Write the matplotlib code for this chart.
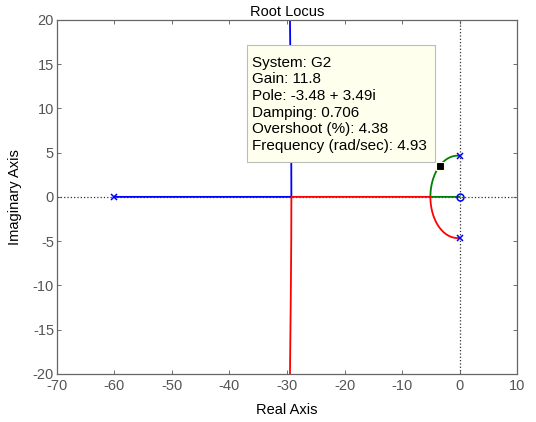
import numpy as np
import matplotlib.pyplot as plt
from matplotlib.patches import Rectangle

# open-loop poles / zeros of G2
poles = [-60.0, 4.64j, -4.64j]
zeros = [0.0]

# data tip
tip_pole = (-3.48, 3.49)
tip_lines = ["System: G2", "Gain: 11.8", "Pole: -3.48 + 3.49i",
             "Damping: 0.706", "Overshoot (%): 4.38",
             "Frequency (rad/sec): 4.93"]

xticks = np.arange(-70, 11, 10)
yticks = np.arange(-20, 21, 5)

num = np.real(np.poly(zeros))
den = np.real(np.poly(poles))

# break-in / break-away points, so branches meet exactly
dpoly = np.polysub(np.polymul(np.polyder(den), num), np.polymul(den, np.polyder(num)))
bk = []
for s in np.roots(dpoly):
    if abs(s.imag) < 1e-9:
        k = -np.polyval(den, s.real) / np.polyval(num, s.real)
        if k > 0:
            bk.append(k)

gains = np.sort(np.concatenate([[0.0], np.logspace(-3, 5, 6000), bk]))

blue, green, red = [], [], []
for k in gains:
    r = np.roots(np.polyadd(den, k * num))
    cplx = r[np.abs(r.imag) > 1e-4]
    re = np.sort(r[np.abs(r.imag) <= 1e-4].real)
    if len(cplx) == 2:
        up = cplx[np.argmax(cplx.imag)]
        dn = np.conj(up)
        if re[0] < up.real:
            blue.append(re[0]); green.append(up); red.append(dn)
        else:
            green.append(re[0]); blue.append(up); red.append(dn)
    else:
        green.append(re[2]); red.append(re[1]); blue.append(re[0])

blue = np.array(blue, dtype=complex)
green = np.array(green, dtype=complex)
red = np.array(red, dtype=complex)

plt.rcParams['font.family'] = ['Liberation Sans', 'DejaVu Sans']
plt.rcParams['axes.unicode_minus'] = False
fig = plt.figure(figsize=(5.36, 4.22), dpi=100)
ax = fig.add_axes([0.106, 0.114, 0.859, 0.839])

ax.axhline(0, color='#333333', ls=':', lw=0.9, zorder=1)
ax.axvline(0, color='#333333', ls=':', lw=0.9, zorder=1)

ax.plot(blue.real, blue.imag, color=(0, 0, 1), lw=1.3, zorder=2)
ax.plot(green.real, green.imag, color=(0, 0.5, 0), lw=1.3, zorder=2)
ax.plot(red.real, red.imag, color=(1, 0, 0), lw=1.3, zorder=2)

ax.plot(np.real(poles), np.imag(poles), 'x', color=(0, 0, 1), ms=4, mew=1.1, zorder=3)
ax.plot(np.real(zeros), np.imag(zeros), 'o', color=(0, 0, 1), mfc='none', ms=5, mew=1.1, zorder=3)

# data tip box + marker
ax.add_patch(Rectangle((-36.96, 3.95), 32.7, 13.25, fc='#ffffee', ec='#bbbbbb',
                       lw=0.8, zorder=5))
ax.plot(tip_pole[0], tip_pole[1], 's', color='k', mec='#ffffee', ms=6, mew=0.8, zorder=6)
ax.text(-36.1, 15.95, "\n".join(tip_lines), fontsize=11, va='top', ha='left',
        linespacing=1.24, zorder=6)

ax.set_xlim(-70, 10)
ax.set_ylim(-20, 20)
ax.set_xticks(xticks)
ax.set_yticks(yticks)
ax.tick_params(direction='in', top=True, right=True, length=3, width=0.6,
               color='#555555', labelcolor='#555555', labelsize=10.5)
ax.tick_params(axis='x', pad=4)
ax.tick_params(axis='y', pad=2)
for sp in ax.spines.values():
    sp.set_color('#666666')
    sp.set_linewidth(0.9)

ax.set_title("Root Locus", fontsize=10.5, pad=3)
ax.set_xlabel("Real Axis", fontsize=10.5, labelpad=7)
ax.set_ylabel("Imaginary Axis", fontsize=10.5, labelpad=8)

fig.savefig("out.png", dpi=100)
